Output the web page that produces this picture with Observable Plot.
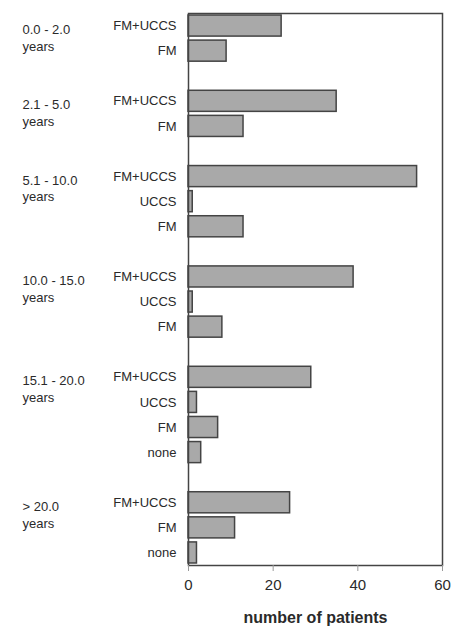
<!DOCTYPE html>
<html>
<head>
<meta charset="utf-8">
<script src="https://cdn.jsdelivr.net/npm/d3@7"></script>
<script src="https://cdn.jsdelivr.net/npm/@observablehq/plot@0.6"></script>
<style>
  html, body { margin: 0; padding: 0; background: #fff; }
  #chart { width: 453px; height: 626px; }
</style>
</head>
<body>
<div id="chart"></div>
<script>
// Duration groups (labels shown at the left)
const groups = ["0.0 - 2.0", "2.1 - 5.0", "5.1 - 10.0", "10.0 - 15.0", "15.1 - 20.0", "> 20.0"];
const groupSuffix = "years";

// One entry per bar
const barGroup = [
  "0.0 - 2.0", "0.0 - 2.0",
  "2.1 - 5.0", "2.1 - 5.0",
  "5.1 - 10.0", "5.1 - 10.0", "5.1 - 10.0",
  "10.0 - 15.0", "10.0 - 15.0", "10.0 - 15.0",
  "15.1 - 20.0", "15.1 - 20.0", "15.1 - 20.0", "15.1 - 20.0",
  "> 20.0", "> 20.0", "> 20.0"
];
const barCategory = [
  "FM+UCCS", "FM",
  "FM+UCCS", "FM",
  "FM+UCCS", "UCCS", "FM",
  "FM+UCCS", "UCCS", "FM",
  "FM+UCCS", "UCCS", "FM", "none",
  "FM+UCCS", "FM", "none"
];
const patients = [
  22, 9,
  35, 13,
  54, 1, 13,
  39, 1, 8,
  29, 2, 7, 3,
  24, 11, 2
];
const xTicks = [0, 20, 40, 60];
const xLabel = "number of patients";

// Build table
const bars = patients.map((v, i) => ({
  key: barGroup[i] + "|" + barCategory[i],
  group: barGroup[i],
  category: barCategory[i],
  value: v
}));

// Row domain with a blank spacer row between groups
const domain = [];
groups.forEach((g, gi) => {
  if (gi > 0) domain.push("spacer|" + gi);
  bars.filter(b => b.group === g).forEach(b => domain.push(b.key));
});

const groupLabels = groups.map(g => ({
  key: bars.find(b => b.group === g).key,
  text: g + "\n" + groupSuffix
}));

const chart = Plot.plot({
  width: 453,
  height: 626,
  marginLeft: 188,
  marginRight: 11,
  marginTop: 13,
  marginBottom: 61,
  style: { fontFamily: "'Liberation Sans', Arial, sans-serif", color: "#2a2a2a", background: "#fff" },
  x: { domain: [0, 60] },
  y: { domain, paddingInner: 0.16, paddingOuter: 0.08, round: false, axis: null },
  marks: [
    Plot.barX(bars, { x: "value", y: "key", fill: "#a9a9a9", stroke: "#444", strokeWidth: 1.5 }),
    Plot.frame({ stroke: "#444", strokeWidth: 1.5 }),
    Plot.axisY({
      tickSize: 0,
      tickPadding: 12,
      fontSize: 13,
      label: null,
      tickFormat: d => d.startsWith("spacer") ? "" : d.split("|")[1]
    }),
    Plot.axisX({
      ticks: xTicks,
      tickSize: 6,
      tickPadding: 8,
      fontSize: 15,
      label: null,
      stroke: "#999"
    }),
    Plot.text(groupLabels, {
      y: "key",
      text: "text",
      frameAnchor: "left",
      dx: -166,
      dy: 11,
      textAnchor: "start",
      lineAnchor: "middle",
      lineHeight: 1.3,
      fontSize: 13
    }),
    Plot.text([xLabel], {
      text: d => d,
      frameAnchor: "bottom",
      dy: 52,
      lineAnchor: "middle",
      fontWeight: "bold",
      fontSize: 16
    })
  ]
});

document.getElementById("chart").appendChild(chart);
</script>
</body>
</html>
